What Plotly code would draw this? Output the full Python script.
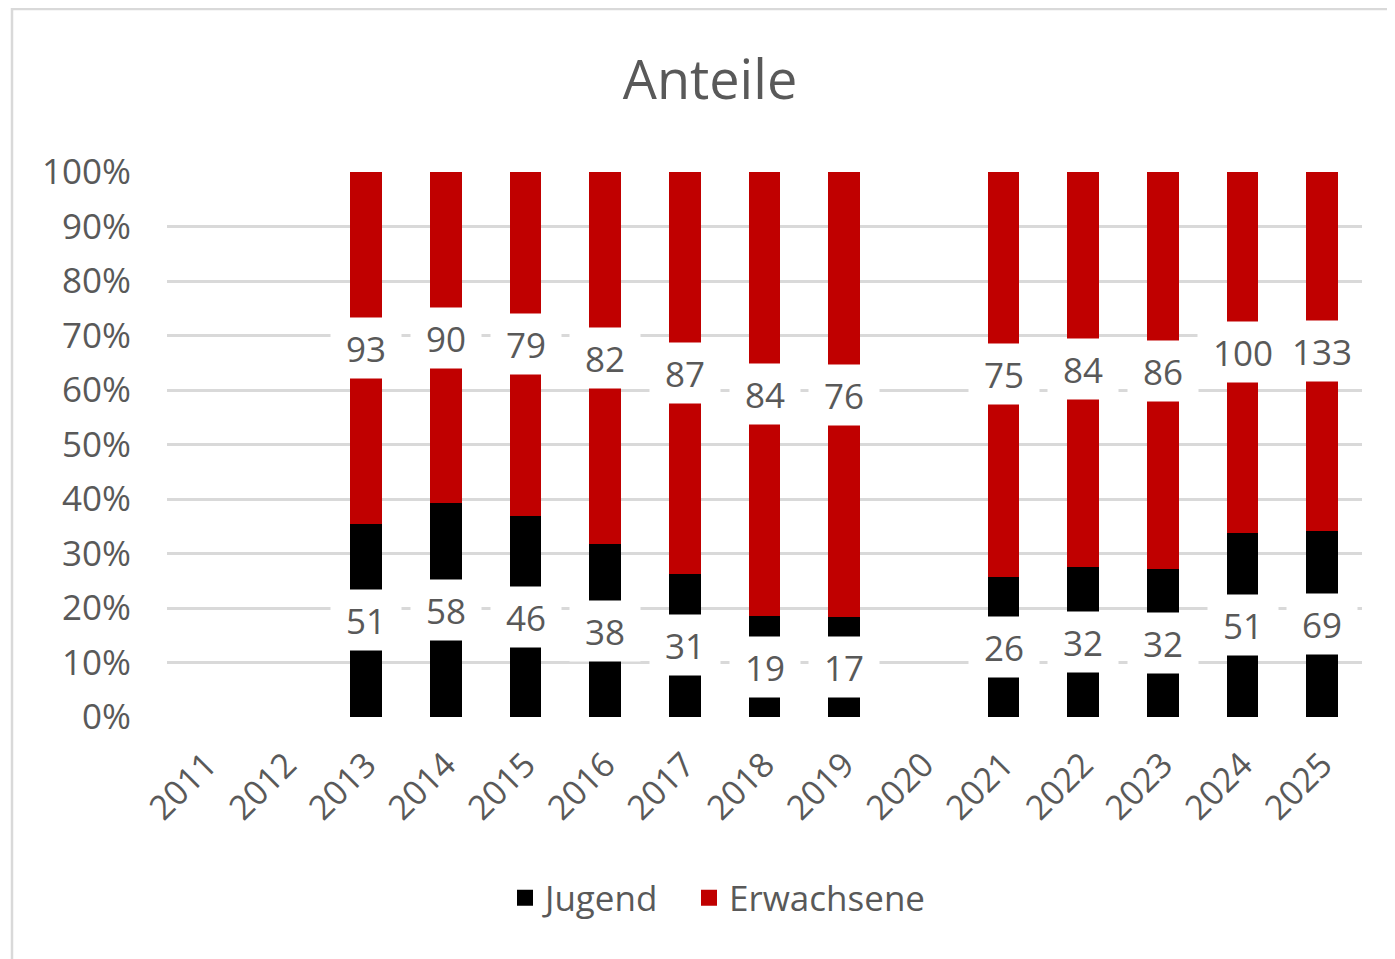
import plotly.graph_objects as go

years = list(range(2011, 2026))
jugend = [None, None, 51, 58, 46, 38, 31, 19, 17, None, 26, 32, 32, 51, 69]
erwachsene = [None, None, 93, 90, 79, 82, 87, 84, 76, None, 75, 84, 86, 100, 133]
y_ticks = [0, 10, 20, 30, 40, 50, 60, 70, 80, 90, 100]

TEXT = "#595959"
RED = "#C00000"
FONT = "Open Sans"
# page body has an 8px margin: figure occupies 8..1395 x 8..959
W, H = 1387, 951
ML, MR, MT, MB = 159, 33, 164, 242
PW, PH = W - ML - MR, H - MT - MB


def px_x(p):
    return (p - ML) / PW


def px_y(p):
    return (H - MB - p) / PH


fig = go.Figure()
fig.add_trace(go.Bar(x=years, y=jugend, name="Jugend", showlegend=False,
                     marker=dict(color="#000000", line=dict(width=0))))
fig.add_trace(go.Bar(x=years, y=erwachsene, name="Erwachsene", showlegend=False,
                     marker=dict(color=RED, line=dict(width=0))))
fig.add_trace(go.Scatter(x=[None], y=[None], mode="markers", name="Jugend", legend="legend",
                         marker=dict(symbol="square", size=16, color="#000000")))
fig.add_trace(go.Scatter(x=[None], y=[None], mode="markers", name="Erwachsene", legend="legend2",
                         marker=dict(symbol="square", size=16, color=RED)))

annotations = []
for yr, j, e in zip(years, jugend, erwachsene):
    if j is None or e is None:
        continue
    tot = j + e
    pj = j / tot * 100
    for val, yc in ((j, pj / 2), (e, pj + (100 - pj) / 2)):
        txt = str(val)
        annotations.append(dict(
            x=yr, y=yc, xref="x", yref="y", text=txt, showarrow=False,
            font=dict(family=FONT, size=35, color=TEXT),
            bgcolor="white", width=20 * len(txt) + 4, height=34, borderpad=13,
            xanchor="center", yanchor="middle"))

leg_common = dict(orientation="h", xanchor="left", yanchor="middle",
                  font=dict(family=FONT, size=35, color=TEXT),
                  itemwidth=30, bgcolor="rgba(0,0,0,0)")

fig.update_layout(
    width=W, height=H,
    margin=dict(l=ML, r=MR, t=MT, b=MB, autoexpand=False),
    barmode="stack", barnorm="percent", bargap=0.6,
    paper_bgcolor="white", plot_bgcolor="white",
    font=dict(family=FONT, color=TEXT),
    title=dict(text="Anteile", x=702 / W, xref="container", xanchor="center",
               y=1 - 72 / H, yref="container", yanchor="middle",
               font=dict(family=FONT, size=54, color=TEXT)),
    legend=dict(x=px_x(497), y=px_y(890), **leg_common),
    legend2=dict(x=px_x(681), y=px_y(890), **leg_common),
    xaxis=dict(range=[2010.5, 2025.5], tickvals=years, ticktext=[str(y) for y in years],
               tickangle=-45, tickfont=dict(family=FONT, size=34, color=TEXT),
               showgrid=False, showline=False, ticks="", zeroline=False,
               ticklabelstandoff=20),
    yaxis=dict(range=[0, 100], tickvals=y_ticks, ticktext=[f"{v}%" for v in y_ticks],
               tickfont=dict(family=FONT, size=35, color=TEXT),
               showgrid=True, gridcolor="#D9D9D9", gridwidth=2.5,
               zeroline=False, showline=False, ticks="", ticklabelstandoff=35),
    annotations=annotations,
    shapes=[dict(type="rect", xref="paper", yref="paper",
                 x0=px_x(4), x1=px_x(1420), y0=px_y(990), y1=px_y(1),
                 line=dict(color="#D9D9D9", width=2.5), fillcolor="rgba(0,0,0,0)", layer="below")],
)

fig.write_html("out.html")
